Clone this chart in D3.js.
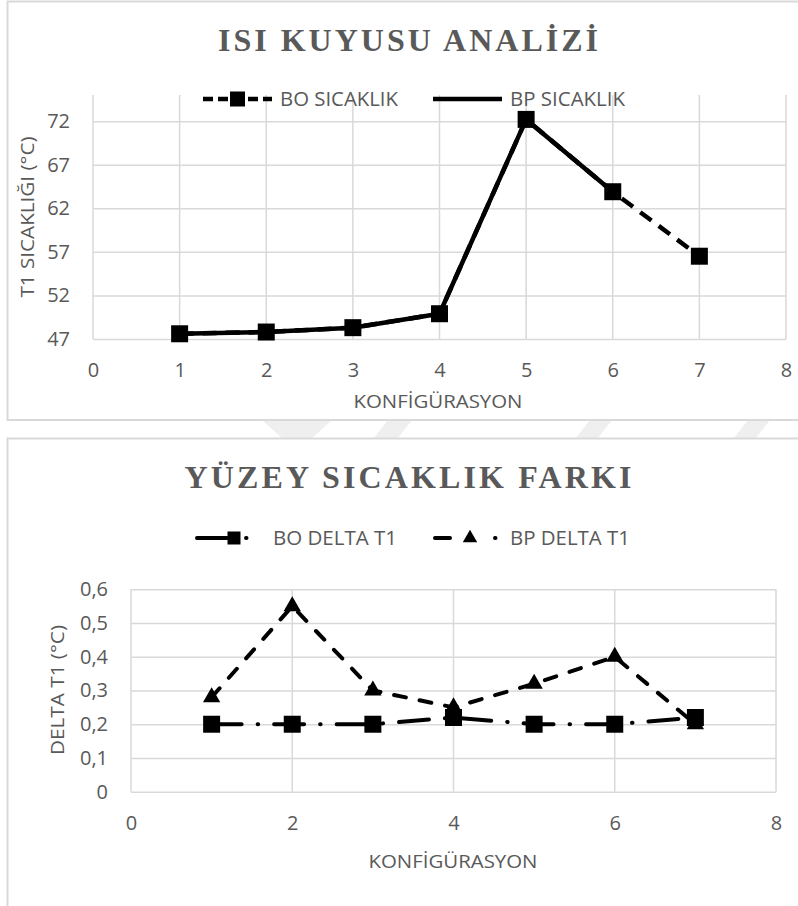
<!DOCTYPE html>
<html>
<head>
<meta charset="utf-8">
<script src="https://cdn.jsdelivr.net/npm/d3@7"></script>
<style>
  html, body { margin: 0; padding: 0; background: #ffffff; }
  svg { display: block; }
</style>
</head>
<body>
<svg id="chart" width="798" height="906"></svg>
<script>
// ---------- DATA ----------
const configs = [1, 2, 3, 4, 5, 6, 7];
const boSicaklik = [47.6, 47.8, 48.3, 49.9, 72.2, 63.9, 56.5];
const bpSicaklik = [47.6, 47.8, 48.3, 49.9, 72.2, 63.9];
const topXTicks = [0, 1, 2, 3, 4, 5, 6, 7, 8];
const topYTicks = [47, 52, 57, 62, 67, 72];

const boDelta = [0.20, 0.20, 0.20, 0.22, 0.20, 0.20, 0.22];
const bpDelta = [0.28, 0.55, 0.30, 0.25, 0.32, 0.40, 0.20];
const botXTicks = [0, 2, 4, 6, 8];
const botYTicks = [0, 0.1, 0.2, 0.3, 0.4, 0.5, 0.6];

const titleTop = "ISI KUYUSU ANALİZİ";
const titleBot = "YÜZEY SICAKLIK FARKI";
const xTitle = "KONFİGÜRASYON";
const yTitleTop = "T1 SICAKLIĞI (°C)";
const yTitleBot = "DELTA T1 (°C)";
const legendTop = ["BO SICAKLIK", "BP SICAKLIK"];
const legendBot = ["BO DELTA T1", "BP DELTA T1"];

// ---------- SETUP ----------
const svg = d3.select("#chart");
const grey = "#595959";
const gridC = "#d9d9d9";
const tickFont = "'Open Sans', sans-serif";
const titleFont = "'Liberation Serif', 'Times New Roman', serif";

// faint watermark stripes between the panels
const wm = svg.append("g").attr("fill", "#efefef");
[[262, 330, 300, 292], [372, 410, 392, 355], [560, 600, 580, 543], [690, 730, 710, 673], [735, 775, 798, 798]]
  .forEach(() => {});
wm.append("path").attr("d", "M262,420 L332,420 L312,438 L282,438 Z");
wm.append("path").attr("d", "M388,420 L412,420 L398,438 L374,438 Z");
wm.append("path").attr("d", "M590,420 L612,420 L598,438 L576,438 Z");
wm.append("path").attr("d", "M748,420 L770,420 L756,438 L734,438 Z");

// panel frames
svg.append("rect").attr("x", 7.5).attr("y", 1.5).attr("width", 800).attr("height", 418.5)
  .attr("fill", "#fff").attr("stroke", gridC).attr("stroke-width", 2);
svg.append("rect").attr("x", 7.5).attr("y", 438.5).attr("width", 800).attr("height", 480)
  .attr("fill", "#fff").attr("stroke", gridC).attr("stroke-width", 2);

function title(text, cx, baseline, len) {
  svg.append("text").attr("x", cx).attr("y", baseline).attr("text-anchor", "middle")
    .attr("font-family", titleFont).attr("font-weight", "bold").attr("font-size", 32)
    .attr("fill", grey).attr("textLength", len).attr("lengthAdjust", "spacing").text(text);
}
function plainText(text, x, y, size, opts = {}) {
  const t = svg.append("text").attr("x", x).attr("y", y)
    .attr("font-family", tickFont).attr("font-size", size).attr("fill", grey)
    .attr("text-anchor", opts.anchor || "start").text(text);
  if (opts.len) t.attr("textLength", opts.len).attr("lengthAdjust", "spacingAndGlyphs");
  if (opts.rotate) t.attr("transform", `rotate(-90,${x},${y})`);
  return t;
}

function drawGrid(g, x, y, xt, yt, yFmt, plotTop) {
  const [x0, x1] = x.range();
  const yb = y.range()[0];
  // vertical grid
  g.append("g").selectAll("line").data(xt).join("line")
    .attr("x1", d => x(d)).attr("x2", d => x(d)).attr("y1", plotTop).attr("y2", yb)
    .attr("stroke", gridC).attr("stroke-width", 1.5);
  // horizontal grid via axis
  const ya = d3.axisLeft(y).tickValues(yt).tickSizeInner(-(x1 - x0)).tickSizeOuter(0)
    .tickPadding(23).tickFormat(yFmt);
  const yg = g.append("g").attr("transform", `translate(${x0},0)`).call(ya);
  yg.select(".domain").remove();
  yg.selectAll(".tick line").attr("stroke", gridC).attr("stroke-width", 1.5);
  yg.selectAll(".tick text").attr("font-family", tickFont).attr("font-size", 20).attr("fill", grey);
  const xa = d3.axisBottom(x).tickValues(xt).tickSize(0).tickPadding(24).tickFormat(d3.format("d"));
  const xg = g.append("g").attr("transform", `translate(0,${yb})`).call(xa);
  xg.select(".domain").remove();
  xg.selectAll(".tick text").attr("font-family", tickFont).attr("font-size", 20).attr("fill", grey);
}

// ---------- TOP CHART ----------
const xT = d3.scaleLinear().domain([0, 8]).range([93, 786]);
const yT = d3.scaleLinear().domain([47, 75]).range([339, 95]);
const gT = svg.append("g");
drawGrid(gT, xT, yT, topXTicks, topYTicks, d3.format("d"), yT(75));

title(titleTop, 408, 51, 380);
plainText(yTitleTop, 34, 217, 18, { anchor: "middle", rotate: true, len: 161 });
plainText(xTitle, 438, 408, 18, { anchor: "middle", len: 169 });

const lineT = d3.line().x((d, i) => xT(configs[i])).y(d => yT(d));
gT.append("path").attr("d", lineT(boSicaklik)).attr("fill", "none").attr("stroke", "#000")
  .attr("stroke-width", 4.5).attr("stroke-dasharray", "14,9");
gT.append("path").attr("d", lineT(bpSicaklik)).attr("fill", "none").attr("stroke", "#000")
  .attr("stroke-width", 4.5).attr("stroke-linejoin", "round");
gT.append("g").selectAll("path").data(boSicaklik).join("path")
  .attr("transform", (d, i) => `translate(${xT(configs[i])},${yT(d)})`)
  .attr("d", d3.symbol(d3.symbolSquare, 17 * 17)).attr("fill", "#000");

// top legend
const legT = svg.append("g");
legT.append("line").attr("x1", 203).attr("x2", 272).attr("y1", 99).attr("y2", 99)
  .attr("stroke", "#000").attr("stroke-width", 4.5).attr("stroke-dasharray", "10,5");
legT.append("path").attr("transform", "translate(237.5,99)")
  .attr("d", d3.symbol(d3.symbolSquare, 15 * 15)).attr("fill", "#000");
plainText(legendTop[0], 280, 106, 20, { len: 118 });
legT.append("line").attr("x1", 433).attr("x2", 502).attr("y1", 99).attr("y2", 99)
  .attr("stroke", "#000").attr("stroke-width", 4.5);
plainText(legendTop[1], 510, 106, 20, { len: 115 });

// ---------- BOTTOM CHART ----------
const xB = d3.scaleLinear().domain([0, 8]).range([131, 776]);
const yB = d3.scaleLinear().domain([0, 0.6]).range([791.7, 589.3]);
const gB = svg.append("g");
drawGrid(gB, xB, yB, botXTicks, botYTicks, d => d3.format(".1f")(d).replace(".", ",").replace(/^0,0$/, "0"), yB(0.6));
gB.selectAll(".tick text").filter(d => d === 0).text(function (d) { return d3.select(this).text() === "0,0" ? "0" : d3.select(this).text(); });

title(titleBot, 408, 488, 447);
plainText(yTitleBot, 64, 690, 18, { anchor: "middle", rotate: true, len: 130 });
plainText(xTitle, 453, 868, 18, { anchor: "middle", len: 169 });

const lineB = d3.line().x((d, i) => xB(configs[i])).y(d => yB(d));
gB.append("path").attr("d", lineB(bpDelta)).attr("fill", "none").attr("stroke", "#000")
  .attr("stroke-width", 4).attr("stroke-linecap", "round").attr("stroke-dasharray", "12,14");
gB.append("g").selectAll("path").data(bpDelta).join("path")
  .attr("transform", (d, i) => `translate(${xB(configs[i])},${yB(d)})`)
  .attr("d", d3.symbol(d3.symbolTriangle, 130)).attr("fill", "#000");
gB.append("path").attr("d", lineB(boDelta)).attr("fill", "none").attr("stroke", "#000")
  .attr("stroke-width", 4).attr("stroke-linecap", "round").attr("stroke-dasharray", "30,16,0.5,16");
gB.append("g").selectAll("path").data(boDelta).join("path")
  .attr("transform", (d, i) => `translate(${xB(configs[i])},${yB(d)})`)
  .attr("d", d3.symbol(d3.symbolSquare, 17 * 17)).attr("fill", "#000");

// bottom legend
const legB = svg.append("g");
legB.append("line").attr("x1", 197).attr("x2", 250).attr("y1", 538).attr("y2", 538)
  .attr("stroke", "#000").attr("stroke-width", 4).attr("stroke-linecap", "round")
  .attr("stroke-dasharray", "30,19,0.5,30");
legB.append("path").attr("transform", "translate(234,538)")
  .attr("d", d3.symbol(d3.symbolSquare, 13 * 13)).attr("fill", "#000");
plainText(legendBot[0], 273, 545, 20, { len: 124 });
legB.append("line").attr("x1", 435).attr("x2", 497).attr("y1", 538).attr("y2", 538)
  .attr("stroke", "#000").attr("stroke-width", 4).attr("stroke-linecap", "round")
  .attr("stroke-dasharray", "15,45,0.5,40");
legB.append("path").attr("transform", "translate(470,538)")
  .attr("d", d3.symbol(d3.symbolTriangle, 90)).attr("fill", "#000");
plainText(legendBot[1], 510, 545, 20, { len: 120 });
</script>
</body>
</html>
